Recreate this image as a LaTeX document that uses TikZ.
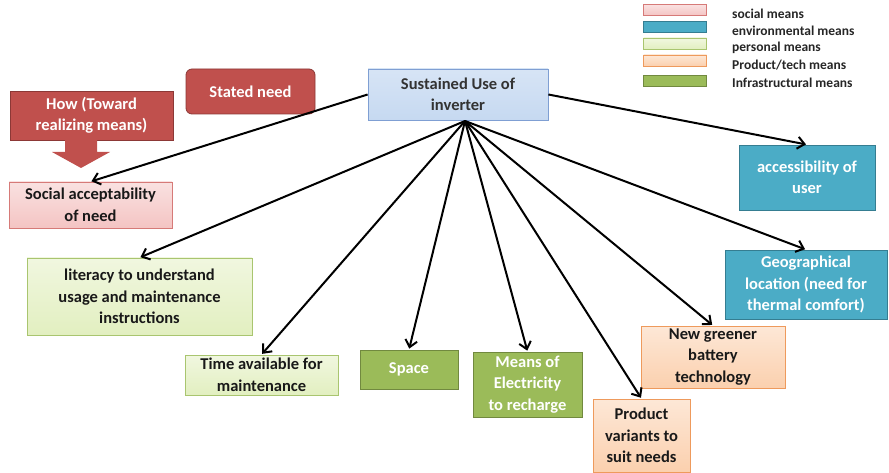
\documentclass[tikz,border=0pt]{standalone}
\usepackage{fontspec}
\setmainfont{Carlito}
\usetikzlibrary{arrows.meta}
\definecolor{redfill}{HTML}{C0504D}
\definecolor{redline}{HTML}{8C3836}
\definecolor{pinkfill}{HTML}{F4C4C3}
\definecolor{pinkline}{HTML}{D67A78}
\definecolor{tealfill}{HTML}{4BACC6}
\definecolor{tealline}{HTML}{357D91}
\definecolor{limefill}{HTML}{E2EFC0}
\definecolor{limeline}{HTML}{A9C56F}
\definecolor{peachfill}{HTML}{FBD0AE}
\definecolor{peachline}{HTML}{EE9A5C}
\definecolor{greenfill}{HTML}{9BBB59}
\definecolor{greenline}{HTML}{71893F}
\definecolor{bluefill}{HTML}{C6D9F1}
\definecolor{blueline}{HTML}{7F9FD3}

\begin{document}
\begin{tikzpicture}
	[x=1pt, y=-1pt,
	box/.style = {draw, line width=0.8pt, align=center, inner sep=2pt,
		font=\bfseries\fontsize{16.5}{21.5}\selectfont},
	root/.style = {box, top color=bluefill!70!white, bottom color=bluefill, draw=blueline, text=black!80},
	need/.style = {box, fill=redfill, draw=redline, text=white},
	social/.style = {box, top color=pinkfill!50!white, bottom color=pinkfill, draw=pinkline, text=black!90},
	envir/.style = {box, fill=tealfill, draw=tealline, text=white},
	person/.style = {box, top color=limefill!50!white, bottom color=limefill, draw=limeline, text=black!90},
	prod/.style = {box, top color=peachfill!50!white, bottom color=peachfill, draw=peachline, text=black!90},
	infra/.style = {box, fill=greenfill, draw=greenline, text=white},
	swatch/.style = {draw, line width=0.6pt, minimum width=63pt, minimum height=11pt, inner sep=0},
	key/.style = {anchor=west, inner sep=0, font=\bfseries\fontsize{13.5}{15}\selectfont, text=black!85},
	link/.style = {-{Straight Barb[length=7pt, width=12pt, line width=2pt]}, line width=2pt, shorten >=1pt}]
	\useasboundingbox (0,0) rectangle (889,473);
	% top of the tree
	\node (root) [root, minimum width=180pt, minimum height=51pt] at (458,94.5) {Sustained Use of\\inverter};
	\node (stated) [need, rounded corners=6pt, minimum width=129pt, minimum height=45pt] at (250.5,91.5) {Stated need};
	\node (how) [need, minimum width=163pt, minimum height=49pt] at (91.5,115.5) {How (Toward\\realizing means)};
	\fill [redfill] (65,140) -- (97,140) -- (97,152) -- (110,152) -- (81,168) -- (52,152) -- (65,152) -- cycle;
	% means
	\node (accept) [social, minimum width=163pt, minimum height=46pt] at (90.5,205) {Social acceptability\\of need};
	\node (literacy) [person, minimum width=225pt, minimum height=77pt] at (139.5,296.5) {literacy to understand\\usage and maintenance\\instructions};
	\node (time) [person, minimum width=153pt, minimum height=40pt] at (261.5,375) {Time available for\\maintenance};
	\node (space) [infra, minimum width=98pt, minimum height=39pt] at (409,369.5) {Space};
	\node (elec) [infra, minimum width=109pt, minimum height=65pt] at (527.5,384.5) {Means of\\Electricity\\to recharge};
	\node (variants) [prod, minimum width=97pt, minimum height=73pt] at (641.5,435.5) {Product\\variants to\\suit needs};
	\node (battery) [prod, minimum width=144pt, minimum height=62pt] at (713,357) {New greener\\battery\\technology};
	\node (access) [envir, minimum width=136pt, minimum height=65pt] at (807,177.5) {accessibility of\\user};
	\node (geo) [envir, minimum width=162pt, minimum height=69pt] at (806,284.5) {Geographical\\location (need for\\thermal comfort)};
	% connectors
	\coordinate (hub) at (465,121);
	\draw [link] (root.west) -- (accept.north);
	\draw [link] (root.east) -- (access.north);
	\foreach \m in {literacy, time, space, elec, variants, battery, geo}
		\draw [link] (hub) -- (\m.north);
	% legend
	\node (k1) [swatch, top color=pinkfill!50!white, bottom color=pinkfill, draw=pinkline] at (675,10) {};
	\node (k2) [swatch, fill=tealfill, draw=tealline] at (675,27) {};
	\node (k3) [swatch, top color=limefill!50!white, bottom color=limefill, draw=limeline] at (675,43.5) {};
	\node (k4) [swatch, top color=peachfill!50!white, bottom color=peachfill, draw=peachline] at (675,60.5) {};
	\node (k5) [swatch, fill=greenfill, draw=greenline] at (675,81) {};
	\node (t1) [key] at (732,14) {social means};
	\node (t2) [key] at (732,31) {environmental means};
	\node (t3) [key] at (732,48) {personal means};
	\node (t4) [key] at (732,65) {Product/tech means};
	\node (t5) [key] at (732,83) {Infrastructural means};
\end{tikzpicture}
\end{document}
